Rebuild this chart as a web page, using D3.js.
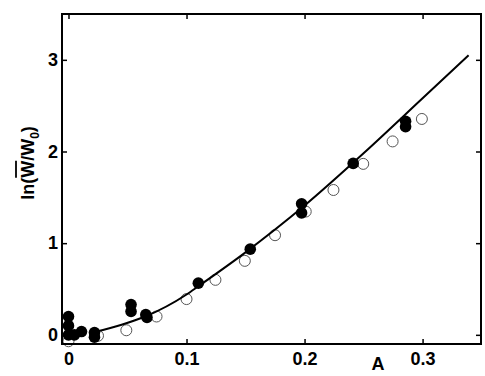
<!DOCTYPE html>
<html><head><meta charset="utf-8">
<script src="https://cdn.jsdelivr.net/npm/d3@7/dist/d3.min.js"></script>
<style>
body{margin:0;background:#fff;}
text{font-family:"Liberation Sans",Arial,sans-serif;font-weight:bold;}
</style></head>
<body>
<svg id="c" width="485" height="376"></svg>
<script>
// Data
const openA = [0.000, 0.025, 0.049, 0.0746, 0.100, 0.1245, 0.1494, 0.175, 0.201, 0.2245, 0.2497, 0.2746, 0.2994];
const openY = [-0.07, -0.01, 0.05, 0.20, 0.39, 0.60, 0.807, 1.087, 1.345, 1.58, 1.865, 2.11, 2.355];
const filledA = [0.000, 0.000, 0.000, 0.005, 0.011, 0.022, 0.022, 0.053, 0.053, 0.0655, 0.0665, 0.110, 0.154, 0.1975, 0.1975, 0.2412, 0.2856, 0.2856];
const filledY = [0.20, 0.10, 0.00, 0.00, 0.036, 0.025, -0.025, 0.33, 0.255, 0.22, 0.19, 0.564, 0.935, 1.43, 1.33, 1.87, 2.33, 2.27];
const fitA = [0.022, 0.045, 0.065, 0.100, 0.110, 0.150, 0.200, 0.250, 0.300, 0.339];
const fitY = [0.03, 0.11, 0.20, 0.44, 0.53, 0.90, 1.41, 1.98, 2.58, 3.05];
const xTicks = [0, 0.1, 0.2, 0.3];
const yTicks = [0, 1, 2, 3];

const svg = d3.select("#c");
const L = 62, R = 481, T = 14, B = 344;
const x = d3.scaleLinear().domain([-0.0055, 0.3495]).range([L, R]);
const y = d3.scaleLinear().domain([-0.1, 3.5]).range([B, T]);
const fmtX = d => d === 0 ? "0" : d3.format(".1f")(d);

// axes
const gx = svg.append("g").attr("transform", `translate(0,${B})`)
  .call(d3.axisBottom(x).tickValues(xTicks).tickFormat(fmtX).tickSize(-5).tickSizeOuter(0).tickPadding(8));
const gxt = svg.append("g").attr("transform", `translate(0,${T})`)
  .call(d3.axisTop(x).tickValues(xTicks).tickFormat("").tickSize(-5).tickSizeOuter(0));
const gy = svg.append("g").attr("transform", `translate(${L},0)`)
  .call(d3.axisLeft(y).tickValues(yTicks).tickFormat(d3.format("d")).tickSize(-5).tickSizeOuter(0).tickPadding(4));
const gyr = svg.append("g").attr("transform", `translate(${R},0)`)
  .call(d3.axisRight(y).tickValues(yTicks).tickFormat("").tickSize(-5).tickSizeOuter(0));
[gx, gxt, gy, gyr].forEach(g => {
  g.select(".domain").remove();
  g.selectAll("line").attr("stroke", "#000").attr("stroke-width", 1.5);
  g.selectAll("text").attr("font-size", 18).attr("font-weight", "bold")
    .attr("font-family", '"Liberation Sans", Arial, sans-serif').attr("fill", "#000");
});

// data
svg.append("g").selectAll("circle").data(openA).join("circle")
  .attr("cx", (d, i) => x(d)).attr("cy", (d, i) => y(openY[i])).attr("r", 5.5)
  .attr("fill", "#fff").attr("stroke", "#555").attr("stroke-width", 1);

const fit = fitA.map((a, i) => [a, fitY[i]]);
svg.append("path").datum(fit)
  .attr("d", d3.line().x(d => x(d[0])).y(d => y(d[1])).curve(d3.curveMonotoneX))
  .attr("fill", "none").attr("stroke", "#000").attr("stroke-width", 2);

svg.append("g").selectAll("circle").data(filledA).join("circle")
  .attr("cx", (d, i) => x(d)).attr("cy", (d, i) => y(filledY[i])).attr("r", 5.8)
  .attr("fill", "#000");

// frame
svg.append("rect").attr("x", L).attr("y", T).attr("width", R - L).attr("height", B - T)
  .attr("fill", "none").attr("stroke", "#000").attr("stroke-width", 2);

// labels
svg.append("text").attr("x", 378).attr("y", 370).attr("text-anchor", "middle")
  .attr("font-size", 18).text("A");

const yl = svg.append("text").attr("transform", "translate(34,163) rotate(-90)")
  .attr("text-anchor", "middle").attr("font-size", 18);
yl.append("tspan").text("ln(");
const wbar = yl.append("tspan").text("W");
yl.append("tspan").text("/W");
yl.append("tspan").attr("font-size", 12).attr("dy", 5).text("0");
yl.append("tspan").attr("dy", -5).text(")");
// overline over the first W
const n = yl.node();
const s = n.getStartPositionOfChar(3), e = n.getEndPositionOfChar(3);
const ext = n.getExtentOfChar(3);
svg.append("line").attr("transform", "translate(34,163) rotate(-90)")
  .attr("x1", s.x).attr("x2", e.x).attr("y1", ext.y - 2).attr("y2", ext.y - 2)
  .attr("stroke", "#000").attr("stroke-width", 1.8);
</script>
</body></html>
